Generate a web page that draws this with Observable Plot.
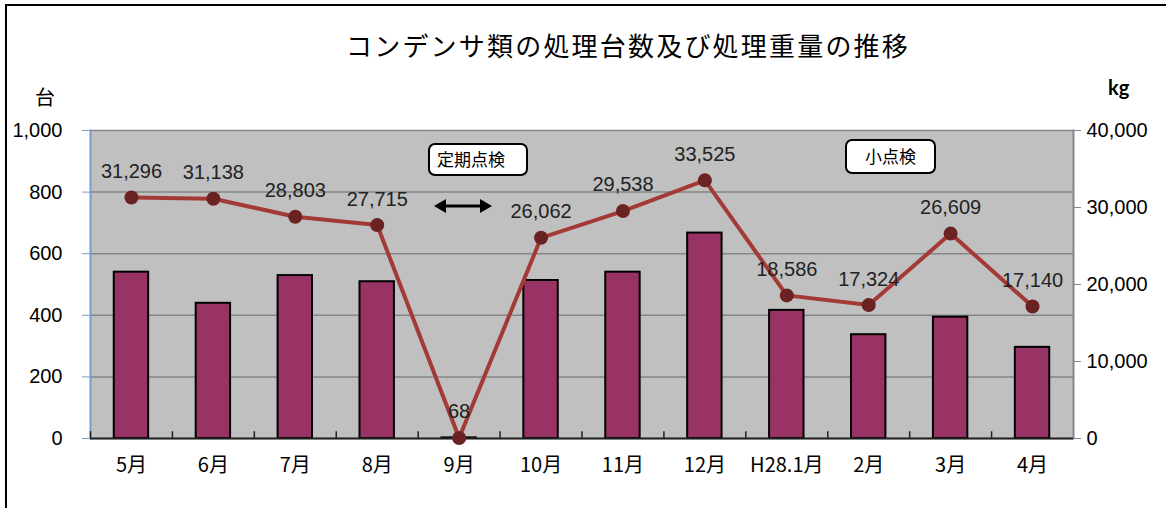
<!DOCTYPE html>
<html><head><meta charset="utf-8">
<script src="https://cdn.jsdelivr.net/npm/d3@7"></script>
<script src="https://cdn.jsdelivr.net/npm/@observablehq/plot@0.6"></script>
<style>
body{margin:0;background:#fff;}
#wrap{position:relative;width:1166px;height:508px;overflow:hidden;font-family:"Noto Sans CJK JP",sans-serif;}
#frame{position:absolute;left:5px;top:4px;width:1300px;height:700px;border-top:2px solid #000;border-left:2px solid #000;}
#title{position:absolute;left:0;width:1256px;top:29px;text-align:center;font-size:26px;line-height:32px;letter-spacing:2.2px;color:#000;}
.unit{position:absolute;font-size:20px;line-height:24px;color:#000;}
.note{position:absolute;background:#fff;border:2px solid #000;border-radius:7px;font-size:17px;line-height:28px;color:#000;box-sizing:border-box;}
#chart{position:absolute;left:0;top:0;}
</style></head>
<body>
<div id="wrap">
  <div id="frame"></div>
  <div id="chart"></div>
  <div id="title">コンデンサ類の処理台数及び処理重量の推移</div>
  <div class="unit" style="left:35px;top:85px;">台</div>
  <div class="unit" style="left:1108px;top:75px;font-family:Lato,sans-serif;font-weight:bold;">kg</div>
  <div class="note" style="left:428px;top:143px;width:100px;height:33px;padding-left:7px;">定期点検</div>
  <div class="note" style="left:845px;top:139px;width:91px;height:35px;text-align:center;line-height:30px;">小点検</div>
  <svg style="position:absolute;left:430px;top:195px;" width="70" height="22">
    <line x1="12" y1="11" x2="52" y2="11" stroke="#000" stroke-width="3"/>
    <path d="M4,11 L16,4 L16,18 Z" fill="#000"/>
    <path d="M62,11 L50,4 L50,18 Z" fill="#000"/>
  </svg>
</div>
<script>
const months = ["5月","6月","7月","8月","9月","10月","11月","12月","H28.1月","2月","3月","4月"];
const units = [540, 439, 529, 509, 2, 513, 540, 667, 416, 337, 394, 296];
const weightKg = [31296, 31138, 28803, 27715, 68, 26062, 29538, 33525, 18586, 17324, 26609, 17140];
const leftTicks = [0, 200, 400, 600, 800, 1000];
const rightTicks = [0, 10000, 20000, 30000, 40000];
const leftMax = 1000, rightMax = 40000;
const ratio = rightMax / leftMax;

const rows = months.map((m, i) => ({month: m, units: units[i], kg: weightKg[i]}));
const fmt = d3.format(",");

const W = 1166, H = 508, mL = 90, mR = 93, mT = 130, mB = 70;
const step = (W - mL - mR) / months.length;
const numFont = "'Liberation Sans', Arial, sans-serif";

const chart = Plot.plot({
  width: W, height: H,
  marginLeft: mL, marginRight: mR, marginTop: mT, marginBottom: mB,
  style: {background: "transparent", fontFamily: numFont, fontSize: "20px", color: "#000", overflow: "visible"},
  x: {domain: months, type: "band", paddingInner: 0.58, paddingOuter: 0.29, round: false, label: null},
  y: {domain: [0, leftMax], label: null},
  marks: [
    Plot.frame({fill: "#c0c0c0", stroke: "none"}),
    Plot.gridY(leftTicks, {stroke: "#868686", strokeOpacity: 1, strokeWidth: 1.5}),
    Plot.frame({anchor: "right", stroke: "#868686", strokeWidth: 2}),
    Plot.frame({anchor: "left", stroke: "#7a9cc8", strokeWidth: 2}),
    Plot.barY(rows, {x: "month", y: "units", fill: "#993366", stroke: "#000", strokeWidth: 2}),
    Plot.ruleY([0], {stroke: "#222", strokeWidth: 2}),
    Plot.ruleX(months, {x: d => d, dx: -step / 2, y1: 0, y2: 22, stroke: "#222", strokeWidth: 1.5}),
    Plot.axisY(leftTicks, {anchor: "left", tickSize: 8, tickPadding: 20, stroke: "#7a9cc8", tickFormat: fmt, fill: "#000", fontSize: 20}),
    Plot.axisY(rightTicks.map(v => v / ratio), {anchor: "right", tickSize: 7, tickPadding: 6, stroke: "#868686",
      tickFormat: d => fmt(Math.round(d * ratio)), fill: "#000", fontSize: 20}),
    Plot.axisX({tickSize: 0, tickPadding: 19, fontSize: 20, fontFamily: "'Noto Sans CJK JP', sans-serif", label: null}),
    Plot.line(rows, {x: "month", y: d => d.kg / ratio, stroke: "#a33a36", strokeWidth: 4}),
    Plot.dot(rows, {x: "month", y: d => d.kg / ratio, r: 7, fill: "#6b2222", stroke: "none"}),
    Plot.text(rows, {x: "month", y: d => d.kg / ratio, text: d => fmt(d.kg), dy: -26, fontSize: 20, fill: "#222"})
  ]
});
document.getElementById("chart").appendChild(chart);
</script>
</body></html>
